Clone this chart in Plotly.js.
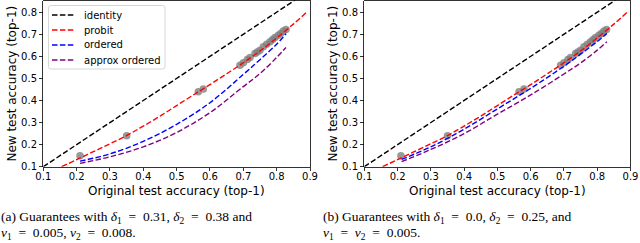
<!DOCTYPE html>
<html>
<head>
<meta charset="utf-8">
<script src="https://cdn.plot.ly/plotly-3.0.1.min.js"></script>
<style>html,body{margin:0;padding:0;background:#fff;}#chart{width:640px;height:243px;}</style>
</head>
<body>
<div id="chart"></div>
<script>
// ---- data ----
const identityX = [0.1, 0.9];
const identityY = [0.1, 0.9];

const probitX = [0.155, 0.2, 0.25, 0.3, 0.35, 0.4, 0.45, 0.5, 0.55, 0.6, 0.65, 0.7, 0.75, 0.8, 0.85, 0.89];
const probitY = [0.100, 0.132, 0.168, 0.204, 0.241, 0.284, 0.329, 0.377, 0.425, 0.472, 0.521, 0.571, 0.624, 0.683, 0.746, 0.800];

const orderedAX = [0.21, 0.3, 0.4, 0.5, 0.6, 0.7, 0.75, 0.8, 0.828];
const orderedAY = [0.125, 0.158, 0.215, 0.292, 0.390, 0.518, 0.585, 0.655, 0.702];
const approxAX = [0.21, 0.3, 0.4, 0.5, 0.6, 0.7, 0.75, 0.8, 0.828];
const approxAY = [0.115, 0.145, 0.190, 0.255, 0.345, 0.463, 0.522, 0.595, 0.640];

const orderedBX = [0.212, 0.3, 0.4, 0.5, 0.6, 0.7, 0.75, 0.8, 0.829];
const orderedBY = [0.133, 0.190, 0.270, 0.362, 0.455, 0.555, 0.610, 0.667, 0.704];
const approxBX = [0.212, 0.3, 0.4, 0.5, 0.6, 0.7, 0.75, 0.8, 0.829];
const approxBY = [0.123, 0.178, 0.250, 0.338, 0.425, 0.520, 0.570, 0.628, 0.666];

const modelsX = [0.21, 0.35, 0.565, 0.58, 0.69, 0.70, 0.712, 0.72, 0.735, 0.742, 0.75, 0.76, 0.77, 0.78, 0.788, 0.795, 0.805, 0.812, 0.82, 0.828];
const modelsY = [0.150, 0.240, 0.440, 0.452, 0.560, 0.571, 0.586, 0.595, 0.613, 0.620, 0.628, 0.643, 0.655, 0.666, 0.676, 0.685, 0.695, 0.703, 0.715, 0.722];

const xTicks = [0.1, 0.2, 0.3, 0.4, 0.5, 0.6, 0.7, 0.8, 0.9];
const yTicks = [0.1, 0.2, 0.3, 0.4, 0.5, 0.6, 0.7, 0.8];
const seriesNames = ['identity', 'probit', 'ordered', 'approx ordered'];
const seriesColors = ['black', 'red', 'blue', 'purple'];
const xTitle = 'Original test accuracy (top-1)';
const yTitle = 'New test accuracy (top-1)';

const E = '\u2002';
const captionA = ['(a) Guarantees with <i>δ</i><sub>1</sub>' + E + '=' + E + '0.31, <i>δ</i><sub>2</sub>' + E + '=' + E + '0.38 and',
                  '<i>ν</i><sub>1</sub>' + E + '=' + E + '0.005, <i>ν</i><sub>2</sub>' + E + '=' + E + '0.008.'];
const captionB = ['(b) Guarantees with <i>δ</i><sub>1</sub>' + E + '=' + E + '0.0, <i>δ</i><sub>2</sub>' + E + '=' + E + '0.25, and',
                  '<i>ν</i><sub>1</sub>' + E + '=' + E + '<i>ν</i><sub>2</sub>' + E + '=' + E + '0.005.'];

// ---- figure ----
const W = 640, H = 243;
const dash = '5.5px,2.4px';
function line(x, y, color, name, xa, ya) {
  return {x: x, y: y, type: 'scatter', mode: 'lines', name: name,
          line: {color: color, width: 1.4, dash: dash, shape: 'spline', smoothing: 1},
          xaxis: xa, yaxis: ya, showlegend: false, hoverinfo: 'skip'};
}
function pts(xa, ya) {
  return {x: modelsX, y: modelsY, type: 'scatter', mode: 'markers',
          marker: {color: 'rgba(128,128,128,0.8)', size: 7.5},
          xaxis: xa, yaxis: ya, showlegend: false, hoverinfo: 'skip'};
}
const traces = [
  pts('x', 'y'),
  line(identityX, identityY, seriesColors[0], seriesNames[0], 'x', 'y'),
  line(probitX, probitY, seriesColors[1], seriesNames[1], 'x', 'y'),
  line(orderedAX, orderedAY, seriesColors[2], seriesNames[2], 'x', 'y'),
  line(approxAX, approxAY, seriesColors[3], seriesNames[3], 'x', 'y'),
  pts('x2', 'y2'),
  line(identityX, identityY, seriesColors[0], seriesNames[0], 'x2', 'y2'),
  line(probitX, probitY, seriesColors[1], seriesNames[1], 'x2', 'y2'),
  line(orderedBX, orderedBY, seriesColors[2], seriesNames[2], 'x2', 'y2'),
  line(approxBX, approxBY, seriesColors[3], seriesNames[3], 'x2', 'y2')
];

const tickFont = {family: 'DejaVu Sans', size: 10, color: 'black'};
function xaxis(domain, anchor) {
  return {domain: domain, anchor: anchor, range: [0.1, 0.9], tickvals: xTicks,
          ticktext: xTicks.map(v => v.toFixed(1)), ticks: 'outside', ticklen: 3.5,
          tickwidth: 0.8, tickcolor: 'black', showline: true, mirror: true,
          linecolor: 'black', linewidth: 0.8, showgrid: false, zeroline: false,
          tickfont: tickFont, fixedrange: true, ticklabelstandoff: -3};
}
function yaxis(domain, anchor) {
  return {domain: domain, anchor: anchor, range: [0.1, 0.853], tickvals: yTicks,
          ticktext: yTicks.map(v => v.toFixed(1)), ticks: 'outside', ticklen: 3.5,
          tickwidth: 0.8, tickcolor: 'black', showline: true, mirror: true,
          linecolor: 'black', linewidth: 0.8, showgrid: false, zeroline: false,
          tickfont: tickFont, fixedrange: true};
}
const yDom = [1 - 166.7 / H, 1 - 0.5 / H];
const xDomA = [43.3 / W, 310 / W];
const xDomB = [364.3 / W, 630.5 / W];

const px = v => v / W, py = v => 1 - v / H;
const titleFont = {family: 'DejaVu Sans', size: 12, color: 'black'};
const capFont = {family: 'Liberation Serif', size: 13.5, color: 'black'};
const ann = [];
const shapes = [];
[xDomA, xDomB].forEach(d => {
  ann.push({text: xTitle, xref: 'paper', yref: 'paper', x: (d[0] + d[1]) / 2, y: py(191),
            xanchor: 'center', yanchor: 'middle', showarrow: false, font: titleFont});
});
[12, 333].forEach(x => {
  ann.push({text: yTitle, xref: 'paper', yref: 'paper', x: px(x), y: py(83.6), textangle: -90,
            xanchor: 'center', yanchor: 'middle', showarrow: false, font: titleFont});
});
[[captionA, 0], [captionB, 322]].forEach(([cap, x]) => {
  ann.push({text: cap[0], xref: 'paper', yref: 'paper', x: px(x), y: py(227),
            xanchor: 'left', yanchor: 'bottom', showarrow: false, font: capFont, borderpad: 0});
  ann.push({text: cap[1], xref: 'paper', yref: 'paper', x: px(x), y: py(242.8),
            xanchor: 'left', yanchor: 'bottom', showarrow: false, font: capFont, borderpad: 0});
});

// legend (drawn like matplotlib's: rounded box, short dashed samples)
const L = 48.5, R = 165, T = 5.5, B = 69, r = 2.5;
shapes.push({type: 'path', xref: 'paper', yref: 'paper',
  path: `M${px(L + r)},${py(T)} L${px(R - r)},${py(T)} Q${px(R)},${py(T)} ${px(R)},${py(T + r)} ` +
        `L${px(R)},${py(B - r)} Q${px(R)},${py(B)} ${px(R - r)},${py(B)} L${px(L + r)},${py(B)} ` +
        `Q${px(L)},${py(B)} ${px(L)},${py(B - r)} L${px(L)},${py(T + r)} Q${px(L)},${py(T)} ${px(L + r)},${py(T)} Z`,
  fillcolor: 'rgba(255,255,255,0.8)', line: {color: '#cccccc', width: 0.8}, layer: 'above'});
seriesNames.forEach((n, i) => {
  const yc = 15 + i * 15;
  shapes.push({type: 'line', xref: 'paper', yref: 'paper', x0: px(52), x1: px(74), y0: py(yc), y1: py(yc),
               line: {color: seriesColors[i], width: 1.4, dash: dash}, layer: 'above'});
  ann.push({text: n, xref: 'paper', yref: 'paper', x: px(81.5), y: py(yc), xanchor: 'left', yanchor: 'middle',
            showarrow: false, font: {family: 'DejaVu Sans', size: 10, color: 'black'}});
});

const layout = {
  width: W, height: H, margin: {l: 0, r: 0, t: 0, b: 0},
  paper_bgcolor: 'white', plot_bgcolor: 'white',
  xaxis: xaxis(xDomA, 'y'), yaxis: yaxis(yDom, 'x'),
  xaxis2: xaxis(xDomB, 'y2'), yaxis2: yaxis(yDom, 'x2'),
  showlegend: false,
  shapes: shapes,
  annotations: ann
};
Plotly.newPlot('chart', traces, layout, {staticPlot: true, displayModeBar: false});
</script>
</body>
</html>
